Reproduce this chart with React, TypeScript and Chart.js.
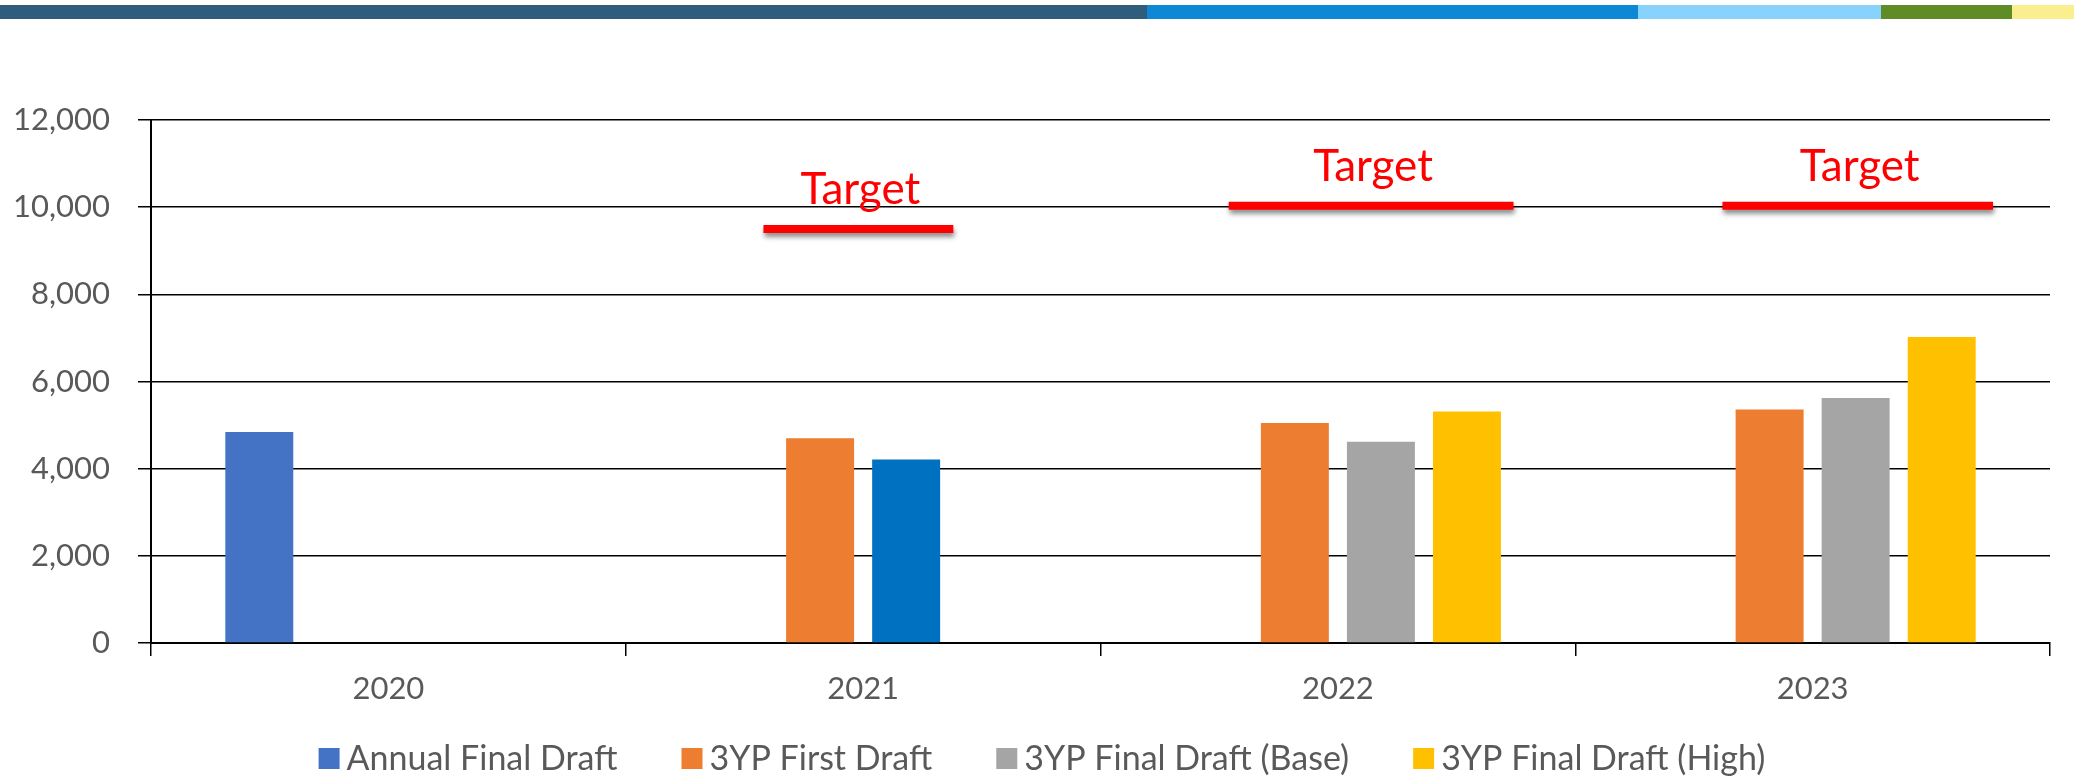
import React, { useEffect, useRef } from 'react';
import { Chart, registerables } from 'chart.js';

Chart.register(...registerables);

const categories = ['2020', '2021', '2022', '2023'];
const annualFinalDraft = [4840, null, null, null];
const firstDraft3YP = [null, 4700, 5050, 5360];
const finalDraftBase3YP = [null, 4210, 4620, 5620];
const finalDraftHigh3YP = [null, null, 5310, 7020];
const baseColors = ['#A5A5A5', '#0070C0', '#A5A5A5', '#A5A5A5'];

const targetLabel = 'Target';
const targetValues = [9500, 10030, 10030];
const targetFrom = [0.79, 1.77, 2.81];
const targetTo = [1.19, 2.37, 3.38];

const yMin = 0;
const yMax = 12000;
const yStep = 2000;

const stripColors = ['#2F5D7C', '#0D87D6', '#87D3FD', '#5F8C26', '#FAEE8F'];
const stripWidths = [1147, 491, 243, 131, 62];

const FONT = 'Lato, "Open Sans", sans-serif';
const TEXT = '#595959';

export default function App() {
  const ref = useRef<HTMLCanvasElement | null>(null);

  useEffect(() => {
    if (!ref.current) return;

    const targetPlugin = {
      id: 'targetDecor',
      afterDatasetsDraw(chart: any) {
        const ctx = chart.ctx;
        const xs = chart.scales.x;
        const ys = chart.scales.y;
        targetValues.forEach((v, i) => {
          const x0 = xs.getPixelForValue(targetFrom[i]);
          const x1 = xs.getPixelForValue(targetTo[i]);
          const y = ys.getPixelForValue(v);
          ctx.save();
          ctx.shadowColor = 'rgba(0,0,0,0.45)';
          ctx.shadowBlur = 5;
          ctx.shadowOffsetX = 1;
          ctx.shadowOffsetY = 4;
          ctx.strokeStyle = '#FF0000';
          ctx.lineWidth = 8;
          ctx.lineCap = 'butt';
          ctx.beginPath();
          ctx.moveTo(x0, y);
          ctx.lineTo(x1, y);
          ctx.stroke();
          ctx.restore();

          ctx.save();
          ctx.fillStyle = '#FF0000';
          ctx.font = '44px ' + FONT;
          ctx.textAlign = 'center';
          ctx.textBaseline = 'alphabetic';
          ctx.fillText(targetLabel, (x0 + x1) / 2 + 2, y - 25);
          ctx.restore();
        });
      },
    };

    const legendPlugin = {
      id: 'bottomLegend',
      afterDraw(chart: any) {
        const ctx = chart.ctx;
        const font = '34px ' + FONT;
        const box = 21;
        const gapText = 7;
        const gapItem = 64;
        const cy = 758.5;
        ctx.save();
        ctx.font = font;
        const items = chart.data.datasets.map((ds: any) => ({
          text: ds.label,
          color: Array.isArray(ds.backgroundColor) ? ds.backgroundColor[0] : ds.backgroundColor,
          w: ctx.measureText(ds.label).width,
        }));
        const total = items.reduce((s: number, it: any) => s + box + gapText + it.w, 0) + gapItem * (items.length - 1);
        let x = 1042 - total / 2;
        ctx.textAlign = 'left';
        ctx.textBaseline = 'middle';
        items.forEach((it: any) => {
          ctx.fillStyle = it.color;
          ctx.fillRect(x, cy - box / 2, box, box);
          ctx.fillStyle = TEXT;
          ctx.fillText(it.text, x + box + gapText, cy + 1);
          x += box + gapText + it.w + gapItem;
        });
        ctx.restore();
      },
    };

    const chart = new Chart(ref.current, {
      type: 'bar',
      data: {
        labels: categories,
        datasets: [
          { label: 'Annual Final Draft', data: annualFinalDraft, backgroundColor: '#4472C4', borderWidth: 0 },
          { label: '3YP First Draft', data: firstDraft3YP, backgroundColor: '#ED7D31', borderWidth: 0 },
          { label: '3YP Final Draft (Base)', data: finalDraftBase3YP, backgroundColor: baseColors, borderWidth: 0 },
          { label: '3YP Final Draft (High)', data: finalDraftHigh3YP, backgroundColor: '#FFC000', borderWidth: 0 },
        ],
      },
      options: {
        responsive: false,
        animation: false,
        devicePixelRatio: 1,
        categoryPercentage: 0.725,
        barPercentage: 0.79,
        layout: { padding: { top: 120, left: 0, right: 24, bottom: 0 } },
        plugins: {
          tooltip: { enabled: false },
          legend: { display: false },
        },
        scales: {
          x: {
            afterFit: (s: any) => { s.height = 133; },
            grid: { display: true, drawOnChartArea: false, drawTicks: true, tickLength: 13, color: '#000', lineWidth: 1.5 },
            border: { display: true, color: '#000', width: 2 },
            ticks: { color: TEXT, font: { family: FONT, size: 31 }, padding: 14, maxRotation: 0, autoSkip: false },
          },
          y: {
            min: yMin,
            max: yMax,
            afterFit: (s: any) => { s.width = 151; },
            grid: { color: '#000', lineWidth: 1.5, tickLength: 13 },
            border: { display: true, color: '#000', width: 2 },
            ticks: {
              stepSize: yStep,
              color: TEXT,
              padding: 28,
              font: { family: FONT, size: 31 },
              callback: (v: any) => Number(v).toLocaleString('en-US'),
            },
          },
        },
      } as any,
      plugins: [targetPlugin, legendPlugin],
    });
    return () => chart.destroy();
  }, []);

  let acc = 0;
  return (
    <div style={{ position: 'fixed', left: 0, top: 0, width: 2074, height: 776, background: '#fff' }}>
      {stripColors.map((c, i) => {
        const left = acc;
        acc += stripWidths[i];
        return (
          <div key={i} style={{ position: 'absolute', top: 5, left, width: stripWidths[i], height: 14, background: c }} />
        );
      })}
      <canvas ref={ref} width={2074} height={776} style={{ position: 'absolute', left: 0, top: 0, width: 2074, height: 776 }} />
    </div>
  );
}
